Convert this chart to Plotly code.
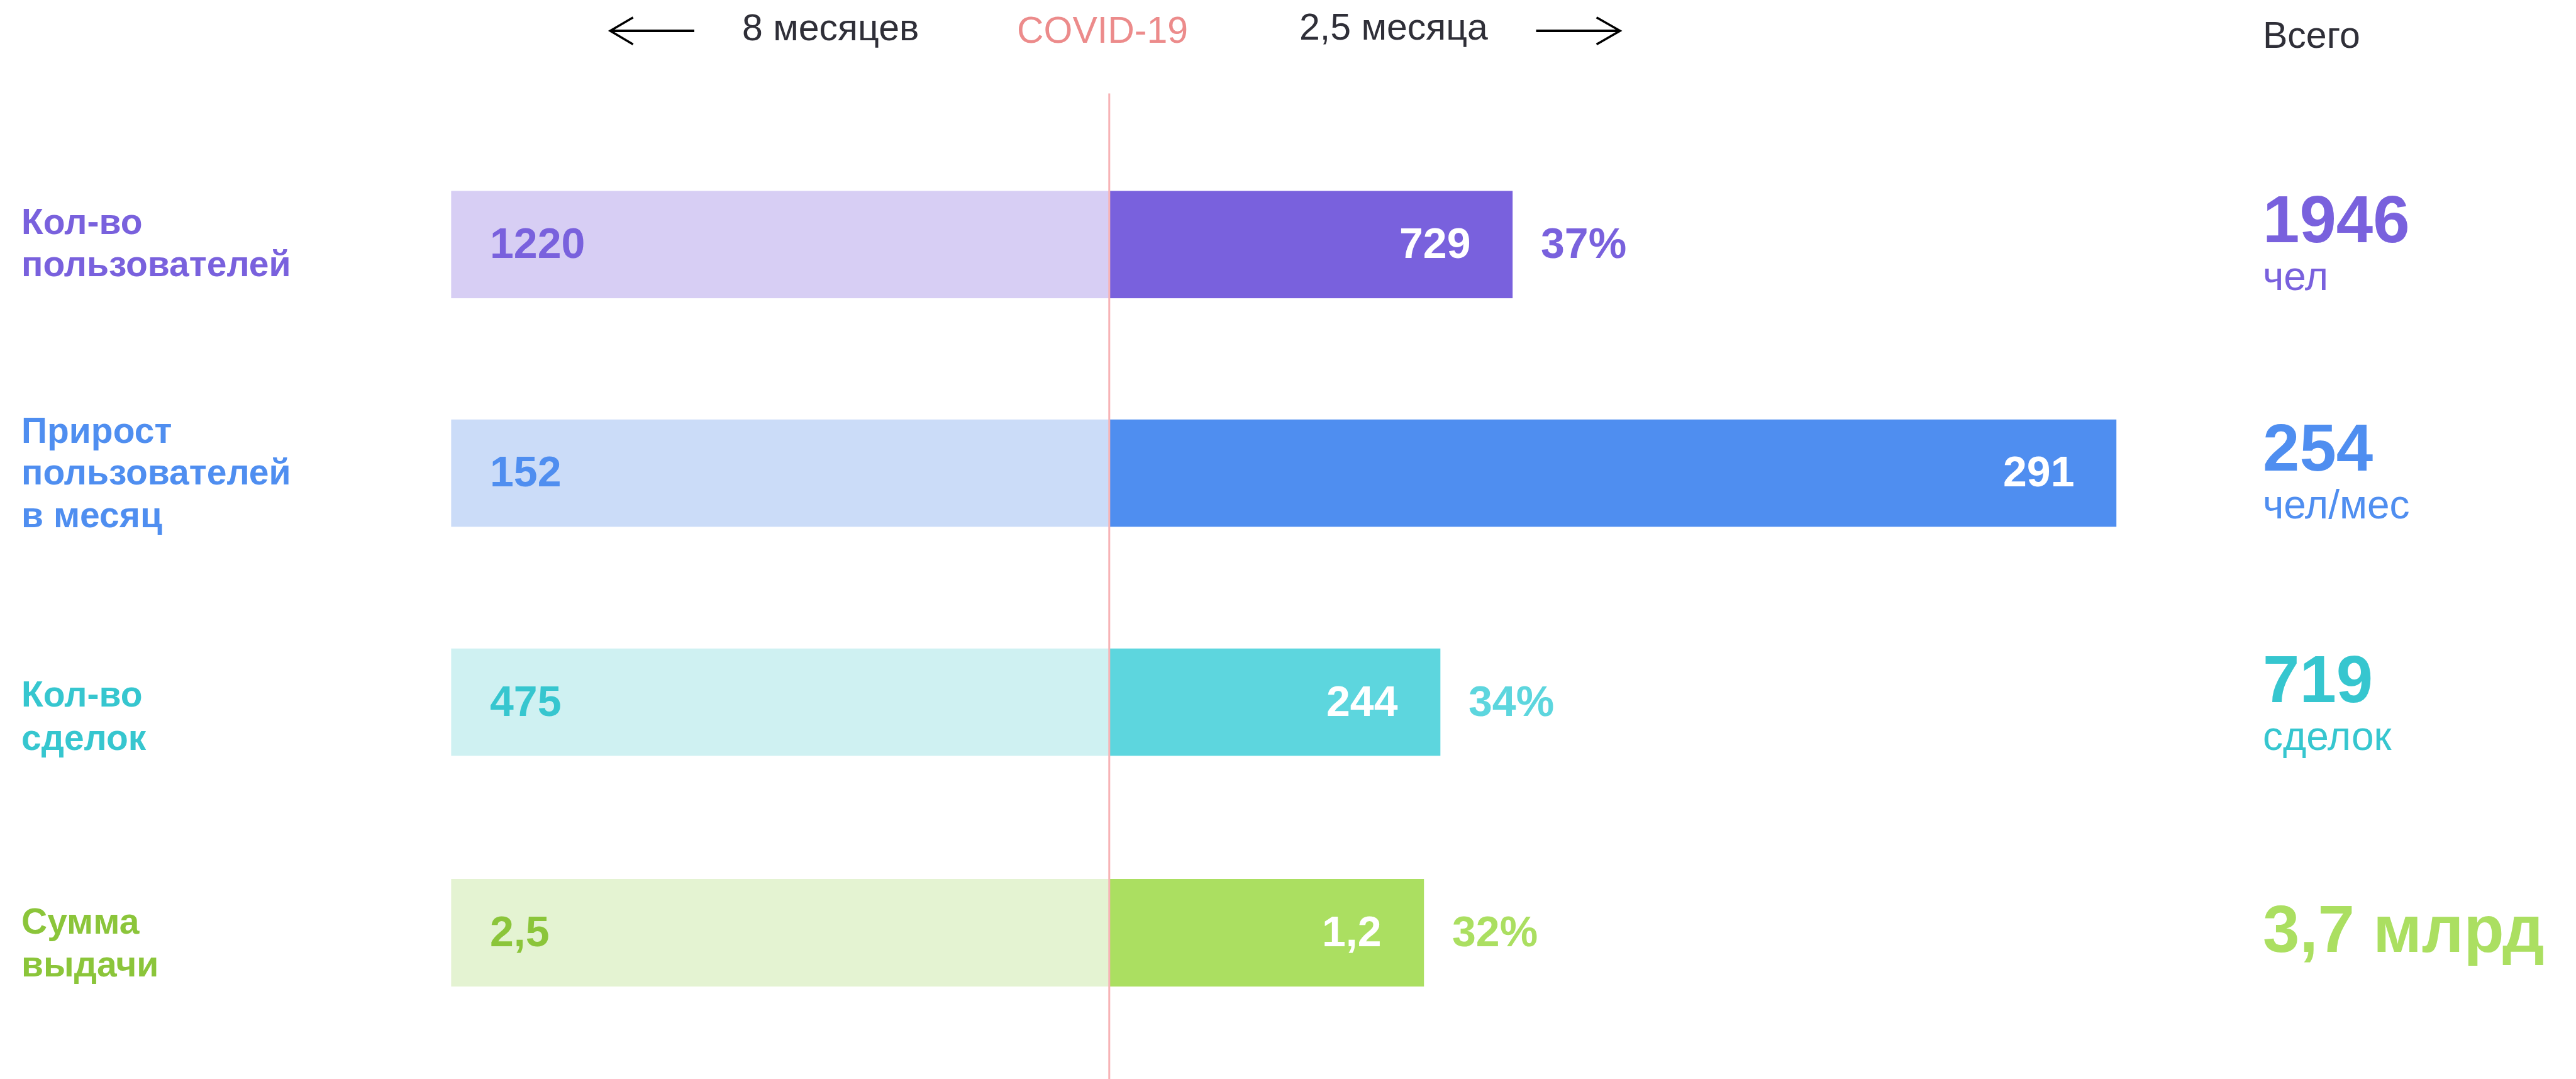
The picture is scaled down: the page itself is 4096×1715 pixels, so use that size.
import plotly.graph_objects as go

# ---------------- data ----------------
categories = [["Кол-во", "пользователей"],
              ["Прирост", "пользователей", "в месяц"],
              ["Кол-во", "сделок"],
              ["Сумма", "выдачи"]]
before_values = [1220, 152, 475, 2.5]      # 8 месяцев
after_values = [729, 291, 244, 1.2]        # 2,5 месяца
share_labels = ["37%", None, "34%", "32%"]
total_values = ["1946", "254", "719", "3,7 млрд"]
total_units = ["чел", "чел/мес", "сделок", ""]
header_left = "8 месяцев"
header_mid = "COVID-19"
header_right = "2,5 месяца"
header_total = "Всего"

# ---------------- style ----------------
W, H = 4096, 1715
OFF = 8  # page body margin offset
FONT = "Liberation Sans"
dark = ["#7961DD", "#4F8EF0", "#5DD6DE", "#ABDF61"]
light = ["#D7CEF4", "#CBDCF8", "#CFF1F2", "#E4F3D2"]
label_col = ["#7961DD", "#4F8EF0", "#36C6CF", "#8BC53A"]
share_col = ["#7961DD", "#4F8EF0", "#5DD6DE", "#ABDF61"]
total_col = ["#7961DD", "#4F8EF0", "#36C6CF", "#ABDF61"]
HEAD_COL = "#2F2F38"

x_left_px, x_center_px = 717.2, 1763.8
row_top_px = [303.3, 666.4, 1030.6, 1396.9]
bar_h_px = 171.0
# right half scale per row (axis maximum at the right edge of the figure)
right_axis_max = [2660.1, 425.25, 1084.5, 5.612]


def px(x):
    return (x - OFF) / W


def py(y):
    return 1 - (y - OFF) / H


def fmt(v):
    s = ("%g" % v)
    return s.replace(".", ",")


fig = go.Figure()
layout = dict(width=W, height=H, margin=dict(l=0, r=0, t=0, b=0),
              paper_bgcolor="white", plot_bgcolor="rgba(0,0,0,0)",
              showlegend=False, barmode="overlay")
annotations = []
shapes = []

for i in range(4):
    nl, nr = 2 * i + 1, 2 * i + 2
    top = row_top_px[i]
    ydom = [py(top + bar_h_px), py(top)]
    for n, dom, rng in [(nl, [px(x_left_px), px(x_center_px)], [before_values[i], 0]),
                        (nr, [px(x_center_px), 1.0], [0, right_axis_max[i]])]:
        sx = "" if n == 1 else str(n)
        layout["xaxis" + sx] = dict(domain=dom, range=rng, visible=False, fixedrange=True,
                                    anchor="y" + sx)
        layout["yaxis" + sx] = dict(domain=ydom, range=[-0.5, 0.5], visible=False,
                                    fixedrange=True, anchor="x" + sx)
    sl = "" if nl == 1 else str(nl)
    sr = str(nr)
    fig.add_trace(go.Bar(x=[before_values[i]], y=[0], orientation="h", width=1,
                         marker=dict(color=light[i], line=dict(width=0)),
                         xaxis="x" + sl, yaxis="y" + sl, hoverinfo="skip"))
    fig.add_trace(go.Bar(x=[after_values[i]], y=[0], orientation="h", width=1,
                         marker=dict(color=dark[i], line=dict(width=0)),
                         xaxis="x" + sr, yaxis="y" + sr, hoverinfo="skip"))
    # bar value labels
    annotations.append(dict(text=fmt(before_values[i]), x=before_values[i], y=0,
                            xref="x" + sl, yref="y" + sl, xanchor="left", yanchor="middle",
                            xshift=60, yshift=2.5, showarrow=False,
                            font=dict(family=FONT, size=68, color=label_col[i], weight="bold")))
    annotations.append(dict(text=fmt(after_values[i]), x=after_values[i], y=0,
                            xref="x" + sr, yref="y" + sr, xanchor="right", yanchor="middle",
                            xshift=-65, yshift=2.5, showarrow=False,
                            font=dict(family=FONT, size=68, color="white", weight="bold")))
    if share_labels[i]:
        annotations.append(dict(text=share_labels[i], x=after_values[i], y=0,
                                xref="x" + sr, yref="y" + sr, xanchor="left", yanchor="middle",
                                xshift=43, yshift=2.5, showarrow=False,
                                font=dict(family=FONT, size=68, color=share_col[i], weight="bold")))


def text_ann(text, x, baseline, size, color, weight="normal", anchor="left"):
    annotations.append(dict(text=text, x=px(x), y=py(baseline - 0.347 * size),
                            xref="paper", yref="paper", xanchor=anchor, yanchor="middle",
                            showarrow=False,
                            font=dict(family=FONT, size=size, color=color, weight=weight)))


# left category labels (each line separately for tight line spacing)
label_baselines = [[371.7, 439.0], [703.3, 770.0, 837.8], [1122.5, 1191.4], [1483.5, 1551.8]]
for i, lines in enumerate(categories):
    for line, b in zip(lines, label_baselines[i]):
        text_ann(line, 32, b, 57, label_col[i], "bold")

# totals
total_baselines = [384.5, 747.6, 1115.7, 1512.8]
unit_baselines = [461.4, 824.5, 1192.6, None]
for i in range(4):
    text_ann(total_values[i], 3596, total_baselines[i], 105, total_col[i], "bold")
    if total_units[i]:
        text_ann(total_units[i], 3596, unit_baselines[i], 64, total_col[i])

# header
text_ann(header_left, 1320, 64.5, 59, HEAD_COL, anchor="center")
text_ann(header_mid, 1753, 68.9, 59, "#EC8B8B", anchor="center")
text_ann(header_right, 2216, 63.7, 59, HEAD_COL, anchor="center")
text_ann(header_total, 3596, 76.9, 59, HEAD_COL)

# arrows
ay = 49.1
shapes.append(dict(type="line", xref="paper", yref="paper", x0=px(971), x1=px(1104),
                   y0=py(ay), y1=py(ay), line=dict(color="black", width=4)))
shapes.append(dict(type="path", xref="paper", yref="paper",
                   path="M %f %f L %f %f L %f %f" % (px(1006.6), py(27.8), px(970.3), py(ay),
                                                     px(1006.6), py(70.5)),
                   line=dict(color="black", width=3.5)))
shapes.append(dict(type="line", xref="paper", yref="paper", x0=px(2442.5), x1=px(2575),
                   y0=py(ay), y1=py(ay), line=dict(color="black", width=4)))
shapes.append(dict(type="path", xref="paper", yref="paper",
                   path="M %f %f L %f %f L %f %f" % (px(2538.6), py(27.8), px(2576), py(ay),
                                                     px(2538.6), py(70.5)),
                   line=dict(color="black", width=3.5)))
# COVID divider
shapes.append(dict(type="line", xref="paper", yref="paper", x0=px(x_center_px), x1=px(x_center_px),
                   y0=py(148.5), y1=0, layer="above", line=dict(color="#F7B3B6", width=3)))

layout["annotations"] = annotations
layout["shapes"] = shapes
fig.update_layout(**layout)
fig.write_html("out.html", config=dict(displayModeBar=False))
